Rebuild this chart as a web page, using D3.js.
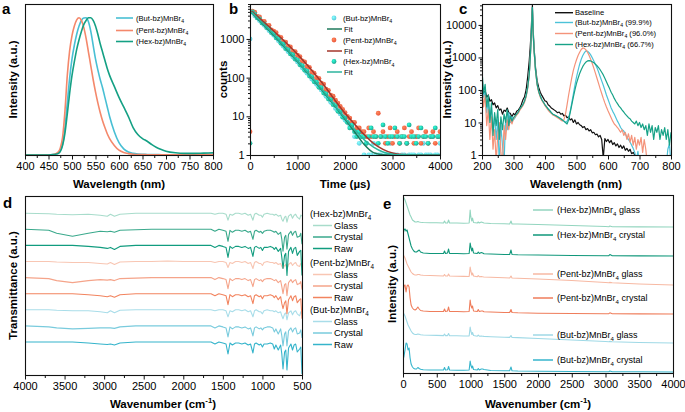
<!DOCTYPE html>
<html><head><meta charset="utf-8">
<script src="https://cdn.jsdelivr.net/npm/d3@7/dist/d3.min.js"></script>
<style>
html,body{margin:0;padding:0;background:#fff;}
svg{display:block;}
text{font-family:Arial,"Liberation Sans",Helvetica,sans-serif;}
</style></head><body>
<svg width="685" height="412"></svg>
<script>
// ================= DATA =================
// (a) normalised PL spectra
const aWavelength = [400,450,460,465,470,475,480,485,490,495,500,505,510,515,520,525,530,535,540,545,550,555,560,565,570,575,580,590,600,610,620,630,640,650,660,670,680,690,700,720,740,760,780,800];
const aBut  = [0,0,0.003,0.006,0.01,0.03,0.08,0.2,0.38,0.56,0.7,0.8,0.88,0.94,0.98,0.998,1.0,0.97,0.9,0.8,0.7,0.62,0.55,0.49,0.42,0.35,0.28,0.17,0.09,0.045,0.022,0.012,0.007,0.005,0.004,0.003,0.003,0.002,0.002,0.002,0.002,0.003,0.004,0.005];
const aPent = [0,0,0.004,0.01,0.02,0.05,0.13,0.32,0.58,0.76,0.87,0.94,0.985,1.0,0.98,0.93,0.85,0.75,0.65,0.55,0.46,0.38,0.31,0.25,0.2,0.155,0.12,0.07,0.035,0.018,0.01,0.006,0.004,0.003,0.002,0.002,0.002,0.002,0.002,0.002,0.002,0.002,0.003,0.004];
const aHex  = [0,0,0.003,0.006,0.01,0.025,0.07,0.16,0.3,0.45,0.58,0.68,0.77,0.84,0.9,0.95,0.98,1.0,1.0,0.98,0.94,0.88,0.81,0.75,0.69,0.63,0.58,0.5,0.42,0.35,0.28,0.2,0.15,0.12,0.1,0.075,0.055,0.04,0.028,0.016,0.012,0.012,0.014,0.016];
const aTicks = [400,450,500,550,600,650,700,750,800];
const aLegend = ["(But-bz)MnBr_{4}","(Pent-bz)MnBr_{4}","(Hex-bz)MnBr_{4}"];

// (b) PL decay (counts vs time, µs)
const bTime = [0,50,100,150,200,250,300,350,400,450,500,550,600,650,700,750,800,850,900,950,1000,1050,1100,1150,1200,1250,1300,1350,1400,1450,1500,1550,1600,1650,1700,1750,1800,1850,1900,1950,2000,2050,2100,2150,2200,2250,2300,2350,2400,2450,2500,2550,2600,2650,2700,2750,2800,2850,2900,2950,3000,3050,3100,3150,3200,3250,3300,3350,3400,3450,3500,3550,3600,3650,3700,3750,3800,3850,3900,3950,4000];
const bButCounts = [1000,4900,4000,3800,3000,2850,2250,2100,1650,1580,1250,1150,900,850,650,620,470,450,345,330,255,240,180,172,130,124,92,88,67,64,48,45,33,31,23,22,16,15.5,11.5,11,8,
  7,6,5,3,4,2,3,1,2,1, 1,2,1,1,1,3,1,1,2,1, 1,1,3,1,1,2,1,1,1,3, 1,1,2,1,1,1,3,1,1,2];
const bPentCounts = [4,5200,4900,3800,3700,2900,2850,2200,2250,1700,1600,1450,1150,1100,850,830,650,620,480,470,380,350,270,255,195,185,140,130,100,96,72,68,50,47,35,33,26,22,18,15,12.5,
  10,9,7,7,5,5,4,4,3,5, 3,4,3,12,3,4,2,3,5,2, 3,4,2,3,5,2,3,4,2,3, 5,2,3,4,2,3,4,2,3,4];
const bHexCounts = [2,5000,4400,3500,3300,2600,2450,1950,1850,1450,1350,1060,1000,770,730,560,530,410,390,300,285,215,205,155,148,110,105,78,76,56,55,40,38,28,27,20,19,13.5,13,9.5,9,
  7,5,6,4,3,4,3,3,2,3, 5,3,3,2,3,6,3,2,3,3, 5,3,2,3,3,2,6,3,3,2, 3,5,3,3,2,3,3,5,3,3];
const bFitTime = [30,500,1000,1500,2000,2200,2400,2600,2800,3000,3200,3600,4000];
const bFitBut  = [4900,1250,260,50,8.5,4,1.9,1.15,1.02,1,1,1,1];
const bFitPent = [5300,1600,400,78,12,6.3,3.4,2.0,1.4,1.12,1.03,1,1];
const bFitHex  = [5000,1300,270,52,9,4.6,2.5,1.6,1.2,1.05,1.01,1,1];
const bXTicks = [0,1000,2000,3000,4000];
const bYTicks = [1,10,100,1000];
const bLegend = ["(But-bz)MnBr_{4}","Fit","(Pent-bz)MnBr_{4}","Fit","(Hex-bz)MnBr_{4}","Fit"];

// (c) PLQY spectra (log)
const cWavelength = [200,205,210,215,220,225,230,235,240,245, 250,255,260,265,270,275,280,285,290,295, 300,305,310,315,320,325,330,335,340,345,
  350,353,356,358,360,362,365,370,375,380, 385,390,395,400,405,410,415,420,425,430, 435,440,445,450,455,460,465,470,475,480,
  485,490,495,500,505,510,515,520,525,530, 535,540,545,550,555,560,565,570,575,580, 585,590,595,600,605,610,615,620,625,630,
  635,640,645,650,655,660,665,670,675,680, 685,690,695,700,705,710,715,720,725,730, 735,740,745,750,755,760,765,770,775,780, 785,790,795,800];
const cBaseline = [110,75,95,60,70,45,50,35,40,28, 33,24,26,18,24,22,28,20,19,15, 19,17,22,24,28,36,50,62,100,250,
  800,2000,6000,18000,40000,9000,2200,480,190,120, 85,68,56,46,44,35,32,28,26,24, 22,20,21,18,19,16,17,14,15,12,
  13,10,12,9,10,8.5,8,7,7.5,6, 6.5,5.5,6,4.8,5,4.2,4.4,3.6,4,3, 0.8,3.2,2.6,3,2.4,2.8,2.1,2.4,1.9,2.2,
  1.7,2,1.6,1.9,1.4,1.6,1.3,1.5,1.1,1.2, 1,0.8,null,null,null,null,null,null,null,null, null,null,null,null,null,null,null,null,null,null, null,null,null,null];
const cBut = [250,60,90,20,50,12,30,6,15,3, 12,0.5,8,2,0.5,15,6,20,10,15, 12,14,18,20,25,30,35,45,65,120,
  300,900,3500,12000,33000,7000,1800,400,150,90, 65,50,42,35,30,26,23,20,18,17, 16,15,14,13,12,11,10,11,14,22,
  40,75,140,250,400,620,880,1150,1400,1600, 1550,1400,1200,980,780,620,480,360,260,190, 140,100,70,52,38,28,22,18,14,11,
  9,7,6,5.5,4.5,3.5,3,2.5,2,1.6, 1.2,0.7,1.3,0.5,0.5,0.5,0.5,0.5,0.5,0.5, 0.5,0.5,0.5,0.5,0.5,0.5,0.5,0.5,0.5,0.5, 0.5,1.5,2.2,0.5];
const cPent = [120,30,70,8,25,3,15,1.5,6,0.6, 4,10,1.2,0.5,8,3,12,6,14,9, 13,15,17,19,24,28,33,42,60,110,
  280,850,3200,11000,30000,6500,1700,380,140,85, 60,48,40,33,28,24,21,19,17,16, 15,14,13,12,11,12,18,35,70,130,
  240,400,600,850,1150,1450,1750,1950,1900,1700, 1450,1150,880,650,470,330,230,160,110,78, 55,40,30,23,18,14,11,9,8,7,
  6,5,6,4,5,3,4.5,2.5,4,2, 3.5,1.5,3,2,3.5,1.2,3,1.5,0.5,null, null,null,null,null,null,null,null,null,null,null, null,null,null,null];
const cHex = [400,80,150,30,70,10,40,4,20,8, 25,3,15,6,18,10,25,8,16,11, 14,16,18,21,26,30,36,46,66,120,
  300,900,3400,12000,34000,7000,1800,400,150,90, 65,50,42,35,30,26,23,20,18,17, 16,15,14,13,12,11,10,9,12,20,
  35,60,100,160,230,320,420,530,630,720, 780,800,780,740,690,620,560,490,420,350, 290,230,180,140,110,85,70,55,45,38,
  32,28,24,21,18,16,14,13,11,10, 9,11,8,10,7,9,6,8,4,9, 5,8,3,7,5,8,3,6,4,7, 3,6,2,5];
const cXTicks = [200,300,400,500,600,700,800];
const cYTicks = [1,10,100,1000,10000];
const cLegend = ["Baseline","(But-bz)MnBr_{4} (99.9%)","(Pent-bz)MnBr_{4} (96.0%)","(Hex-bz)MnBr_{4} (66.7%)"];

// (d) FTIR (relative transmittance change, 0 = baseline)
const dWavenumber = [500,515,530,560,580,600,620,640,670,690, 705,720,740,755,770,800,830,850,870,900, 940,980,1000,1020,1040,1080,1100,1120,1150,1180,
  1220,1260,1300,1340,1380,1410,1435,1460,1500,1550, 1600,1650,1800,2000,2200,2400,2600,2800,2870,2920, 2960,3050,3200,3400,3600,3700,4000];
const dHexGlass   = [-3,-2,-6,-4,-1,-2,-5,-1,-3,-9, -3,-4,-8,-6,-2,-3,-1,-2,-1,-1, 0,-1,-4,-2,-2,0,-1,-7,-1,-2, 0,-1,0,0,-2,-1,-7,-1,0,0, -1,0,0,0,0,0,0,-1,-3,-1, -3,-2,-1,-1.5,-1,-0.5,0];
const dHexCrystal = [-15,-4,-7,-8,-2,-3,-6,-2,-5,-20, -6,-8,-22,-10,-3,-5,-2,-3,-2,-1, -1,-2,-4,-2,-3,-1,-2,-10,-2,-3, -1,-2,-1,-1,-3,-1,-12,-2,-1,0, -2,0,0,0,0,0,-0.5,-1,-3,-2, -2.5,-2,-4,-7,-4,-1,0];
const dHexRaw     = [-30,-5,-6,-10,-2,-3,-8,-2,-6,-30, -8,-10,-23,-12,-3,-6,-2,-4,-2,-1, -2,-2,-5,-2,-3,-1,-2,-11,-2,-3, -1,-2,-1,-1,-3,-1,-12,-2,-1,0, -2,0,0,0,0,0,0,-1,-4,-2, -3,-2,-1,0,0,0,0];
const dPentGlass  = [-3,-2,-5,-4,-1,-2,-4,-1,-3,-8, -3,-4,-7,-5,-2,-3,-1,-2,-1,-1, 0,-1,-4,-2,-2,0,-1,-7,-1,-2, 0,-1,0,0,-2,-1,-6,-1,0,0, -1,0,0,0,0.5,0,0,-0.5,-3,-1, -2.5,-2,-1,-1,-0.5,0,0];
const dPentCrystal= [-12,-4,-6,-7,-2,-3,-5,-2,-5,-18, -6,-7,-16,-9,-3,-5,-2,-3,-2,-1, -1,-2,-4,-2,-3,-1,-2,-9,-2,-3, -1,-2,-1,-1,-3,-1,-11,-2,-1,0, -2,0,0,0,0,0,-0.5,-1,-3,-2, -2.5,-2,-3,-5,-3,-1,0];
const dPentRaw    = [-25,-5,-6,-9,-2,-3,-7,-2,-6,-20, -7,-9,-15,-10,-3,-6,-2,-4,-2,-1, -2,-2,-5,-2,-3,-1,-2,-10,-2,-3, -1,-2,-1,-1,-3,-1,-11,-2,-1,0, -2,0,0,0,0,0,0,-1,-3.5,-2, -3,-2,-1,0,0,0,0];
const dButGlass   = [-4,-2,-6,-4,-1,-2,-5,-1,-3,-10, -3,-4,-9,-6,-2,-3,-1,-2,-1,-1, 0,-1,-4,-2,-2,0,-1,-7,-1,-2, 0,-1,0,0,-2,-1,-7,-1,0,0, -1,0,0,0,0,0,0,-0.5,-3,-1, -3,-2,-1,-1,-0.5,0,0];
const dButCrystal = [-12,-4,-7,-8,-2,-3,-6,-2,-5,-20, -6,-8,-20,-10,-3,-8,-3,-6,-2,-1, -1,-2,-4,-2,-3,-1,-2,-10,-2,-3, -1,-2,-1,-1,-3,-1,-11,-2,-1,0, -2,0,0,0,0,0,0,-1,-2.5,-2, -2,-2,-2.5,-3,-2,-1,0];
const dButRaw     = [-32,-5,-7,-10,-2,-3,-8,-2,-6,-28, -8,-10,-27,-12,-3,-8,-3,-7,-2,-1, -2,-2,-5,-2,-3,-1,-2,-11,-2,-3, -1,-2,-1,-1,-3,-1,-12,-2,-1,0, -2,0,0,0,0,0,0,-1,-3,-2, -2.5,-2,-1,0,0,0,0];
const dXTicks = [4000,3500,3000,2500,2000,1500,1000,500];
const dLegendGroups = ["(Hex-bz)MnBr_{4}","(Pent-bz)MnBr_{4}","(But-bz)MnBr_{4}"];
const dLegendItems = ["Glass","Crystal","Raw"];

// (e) Raman (relative intensity above each trace's baseline)
const eWavenumber = [0,15,30,45,60,75,90,105,120, 140,160,180,200,220,240,260, 300,400,500,600,615,630,660,675,690, 800,900,980,995,1005,1020,1030,1045, 1100,1115,1130,1160,1180,1200,1300, 1500,1580,1600,1615,1700,2000,2500, 3000,3050,3065,3100,3500,4000];
const eHexGlass    = [30,29,27,24,21,18,15,12,10, 7,6,5,5,5.5,5,4.8, 4.5,4.3,4.2,4,6,4,4,7,4, 4,3.8,4,17,10,6,9,4.5, 4,5,4,5,4.5,4,3.5, 3.2,3,6,3,3,2.5,1.5, 0.5,0.3,1,0.3,0.1,0];
const eHexCrystal  = [22,26,27,25,26,22,18,14,10, 7,5,4,4,5,6,4, 3,2.5,2.5,2.5,5,2.5,3,7,2.5, 2.5,2.3,2.5,13,9,5,8,3, 2.5,4,2.5,3.5,3,2.3,2, 1.5,1.5,6,1.5,1.2,1,0.5, 0.3,0.3,1.5,0.3,0.1,0];
const ePentGlass   = [30,29,27,24,21,19,17,15,13, 11.5,10.5,10,10,10.5,10.5,10, 9.8,9.5,9.2,9,10.5,9,9,11,9, 8.8,8.6,8.5,18,14,10,12,9, 8.3,9.5,8.3,8.5,8.2,8,7.7, 7.2,7,9,7,6.8,6,4.5, 2.5,2.3,2.6,2.2,1,0];
const ePentCrystal = [20,28,29,22,28,29,27,16,9, 6,4.5,4,5,7,5,3.5, 3,2.5,2.5,2.5,5,2.5,3,7,2.5, 2.5,2.3,2.5,14,9,6,8,3, 2.5,4.5,2.5,3,3,2.3,2, 1.5,1.5,4.5,1.5,1.2,0.8,0.5, 0.3,0.3,1.2,0.3,0.1,0];
const eButGlass    = [30,29,27,24,21,18,16,14,12, 10,9,8.5,8.5,9,8.7,8.3, 8,7.8,7.6,7.4,9,7.4,7.4,9.5,7.3, 7.2,7,7,16,12,8.5,10.5,7.5, 6.8,8,6.8,7,6.8,6.6,6.3, 5.8,5.6,7.5,5.6,5.4,4.5,3, 1.5,1.3,1.6,1.2,0.5,0];
const eButCrystal  = [12,16,22,29,28,22,24,14,8, 5,3.5,3,3,4.5,3.5,2.8, 2.3,2,2,2,4.5,2,2.2,5.5,2, 1.8,1.8,2,11,7,4,6,2.5, 2,3.5,2,3,3,2.5,1.5, 1.2,1.2,5,1.2,1,0.8,0.5, 0.3,0.3,1,0.3,0.2,0];
const eXTicks = [0,500,1000,1500,2000,2500,3000,3500,4000];
const eLegend = ["(Hex-bz)MnBr_{4} glass","(Hex-bz)MnBr_{4} crystal","(Pent-bz)MnBr_{4} glass","(Pent-bz)MnBr_{4} crystal","(But-bz)MnBr_{4} glass","(But-bz)MnBr_{4} crystal"];

// ================= DRAWING =================
const svg = d3.select('svg');
const defs = svg.append('defs');
const zip = (xs, ys) => xs.map((x, i) => [x, ys[i]]);
let clipN = 0;

function rich(g, x, y, str, o = {}) {
  const size = o.size || 11;
  const t = g.append('text').attr('x', x).attr('y', y)
    .attr('font-size', size).attr('font-weight', o.bold ? 'bold' : 'normal')
    .attr('text-anchor', o.anchor || 'start').attr('fill', o.fill || '#000');
  if (o.rotate) t.attr('transform', `rotate(-90,${x},${y})`);
  const parts = str.split(/(_\{[^}]*\}|\^\{[^}]*\})/).filter(s => s.length);
  let shift = 0;
  parts.forEach(p => {
    let type = null, txt = p;
    if (p.startsWith('_{')) { type = 'sub'; txt = p.slice(2, -1); }
    else if (p.startsWith('^{')) { type = 'sup'; txt = p.slice(2, -1); }
    const ts = t.append('tspan').text(txt);
    const target = type === 'sub' ? size * 0.3 : type === 'sup' ? -size * 0.42 : 0;
    if (target !== shift) { ts.attr('dy', target - shift); shift = target; }
    if (type) ts.attr('font-size', size * 0.68);
  });
  return t;
}

function panel(x0, y0, x1, y1) {
  const id = 'clip' + (clipN++);
  defs.append('clipPath').attr('id', id).append('rect')
    .attr('x', x0).attr('y', y0).attr('width', x1 - x0).attr('height', y1 - y0);
  const g = svg.append('g');
  const plot = g.append('g').attr('clip-path', `url(#${id})`);
  return { g, plot, x0, y0, x1, y1 };
}
function frame(p) {
  p.g.append('rect').attr('x', p.x0 + 0.5).attr('y', p.y0 + 0.5)
    .attr('width', p.x1 - p.x0).attr('height', p.y1 - p.y0)
    .attr('fill', 'none').attr('stroke', '#111').attr('stroke-width', 1.1);
}
function styleAxis(ax, size) {
  ax.select('.domain').remove();
  ax.selectAll('line').attr('stroke', '#111');
  ax.selectAll('text').attr('font-size', size).attr('fill', '#000')
    .attr('font-family', 'Arial,"Liberation Sans",sans-serif');
}
function xAxis(p, scale, major, minor, size) {
  const ax = p.g.append('g').attr('transform', `translate(0,${p.y1 + 1})`)
    .call(d3.axisBottom(scale).tickValues(major).tickSize(3.5).tickSizeOuter(0).tickPadding(2.5).tickFormat(d3.format('d')));
  styleAxis(ax, size);
  if (minor) {
    const mx = p.g.append('g').attr('transform', `translate(0,${p.y1 + 1})`)
      .call(d3.axisBottom(scale).tickValues(minor).tickSize(2).tickFormat(''));
    styleAxis(mx, size);
  }
}
function yAxisLog(p, scale, major, size) {
  const ax = p.g.append('g').attr('transform', `translate(${p.x0},0)`)
    .call(d3.axisLeft(scale).tickValues(major).tickSize(3.5).tickSizeOuter(0).tickPadding(2).tickFormat(d3.format('d')));
  styleAxis(ax, size);
  const dom = scale.domain();
  const minor = [];
  major.forEach(m => { for (let k = 2; k < 10; k++) if (m * k <= dom[1]) minor.push(m * k); });
  const mx = p.g.append('g').attr('transform', `translate(${p.x0},0)`)
    .call(d3.axisLeft(scale).tickValues(minor).tickSize(2).tickFormat(''));
  styleAxis(mx, size);
}
const mids = arr => arr.slice(1).map((v, i) => (v + arr[i]) / 2);
const TICK = 11;

// ---------- panel a ----------
{
  const p = panel(25, 4, 213, 155);
  const x = d3.scaleLinear().domain([400, 800]).range([p.x0, p.x1]);
  const y = d3.scaleLinear().domain([0, 1.1]).range([p.y1, p.y0]);
  const line = d3.line().x(d => x(d[0])).y(d => y(d[1])).curve(d3.curveMonotoneX);
  const cols = ['#48bfd4', '#f4886b', '#14a084'];
  [aBut, aPent, aHex].forEach((s, i) => {
    p.plot.append('path').datum(zip(aWavelength, s)).attr('d', line)
      .attr('fill', 'none').attr('stroke', cols[i]).attr('stroke-width', 1.6);
  });
  const ly = [18, 30.5, 41.5];
  aLegend.forEach((t, i) => {
    p.g.append('line').attr('x1', 116).attr('x2', 133).attr('y1', ly[i]).attr('y2', ly[i]).attr('stroke', cols[i]).attr('stroke-width', 1.6);
    rich(p.g, 136, ly[i] + 2.7, t, { size: 7.6 });
  });
  frame(p);
  xAxis(p, x, aTicks, mids(aTicks), TICK);
  rich(svg, 119, 188, 'Wavelength (nm)', { size: 11.5, bold: true, anchor: 'middle' });
  rich(svg, 17, 79.5, 'Intensity (a.u.)', { size: 11.5, bold: true, anchor: 'middle', rotate: true });
  rich(svg, 2, 14, 'a', { size: 15, bold: true });
}

// ---------- panel b ----------
{
  const p = panel(250, 4, 440, 155);
  const x = d3.scaleLinear().domain([0, 4000]).range([p.x0, p.x1]);
  const y = d3.scaleLog().domain([1, 8000]).range([p.y1, p.y0]);
  const ptCols = ['#55c3d6', '#e9553a', '#1ca08a'];
  const fitCols = ['#1f7a5c', '#a3362b', '#2cb59e'];
  ptCols.forEach((c, i) => {
    const gr = defs.append('radialGradient').attr('id', 'ball' + i).attr('cx', '38%').attr('cy', '35%').attr('r', '70%');
    gr.append('stop').attr('offset', '0%').attr('stop-color', d3.color(c).brighter(1.3));
    gr.append('stop').attr('offset', '100%').attr('stop-color', c);
  });
  [bButCounts, bPentCounts, bHexCounts].forEach((s, i) => {
    p.plot.append('g').selectAll('circle').data(zip(bTime, s)).join('circle')
      .attr('cx', d => x(d[0])).attr('cy', d => y(d[1])).attr('r', 2.4)
      .attr('fill', `url(#ball${i})`);
  });
  const line = d3.line().x(d => x(d[0])).y(d => y(d[1])).curve(d3.curveMonotoneX);
  [bFitBut, bFitPent, bFitHex].forEach((s, i) => {
    p.plot.append('path').datum(zip(bFitTime, s)).attr('d', line)
      .attr('fill', 'none').attr('stroke', fitCols[i]).attr('stroke-width', 1.5);
  });
  const ly = [18, 29, 40, 51, 61.5, 72];
  bLegend.forEach((t, i) => {
    const k = Math.floor(i / 2);
    if (i % 2 === 0) {
      p.g.append('circle').attr('cx', 334).attr('cy', ly[i]).attr('r', 2.4).attr('fill', `url(#ball${k})`);
    } else {
      p.g.append('line').attr('x1', 327).attr('x2', 342).attr('y1', ly[i]).attr('y2', ly[i]).attr('stroke', fitCols[k]).attr('stroke-width', 1.5);
    }
    rich(p.g, i % 2 === 0 ? 343 : 344, ly[i] + 2.8, t, { size: 7.8 });
  });
  frame(p);
  xAxis(p, x, bXTicks, mids(bXTicks), TICK);
  yAxisLog(p, y, bYTicks, TICK);
  rich(svg, 345, 188, 'Time (\u00b5s)', { size: 11.5, bold: true, anchor: 'middle' });
  rich(svg, 227, 79.5, 'counts', { size: 11.5, bold: true, anchor: 'middle', rotate: true });
  rich(svg, 229, 14, 'b', { size: 15, bold: true });
}

// ---------- panel c ----------
{
  const p = panel(482, 4, 671, 155);
  const x = d3.scaleLinear().domain([200, 800]).range([p.x0, p.x1]);
  const y = d3.scaleLog().domain([1, 44000]).range([p.y1, p.y0]);
  const cols = ['#111111', '#4cc2d8', '#f4937a', '#17a287'];
  const line = d3.line().defined(d => d[1] != null).x(d => x(d[0])).y(d => y(d[1]));
  [cBaseline, cBut, cPent, cHex].forEach((s, i) => {
    p.plot.append('path').datum(zip(cWavelength, s)).attr('d', line)
      .attr('fill', 'none').attr('stroke', cols[i]).attr('stroke-width', 1.2).attr('stroke-linejoin', 'round');
  });
  const ly = [12.7, 22.5, 33.5, 44.5];
  cLegend.forEach((t, i) => {
    p.g.append('line').attr('x1', 555).attr('x2', 573).attr('y1', ly[i]).attr('y2', ly[i]).attr('stroke', cols[i]).attr('stroke-width', 1.4);
    rich(p.g, 575, ly[i] + 2.7, t, { size: 7.6 });
  });
  frame(p);
  xAxis(p, x, cXTicks, mids(cXTicks), TICK);
  yAxisLog(p, y, cYTicks, TICK);
  rich(svg, 576, 188, 'Wavelength (nm)', { size: 11.5, bold: true, anchor: 'middle' });
  rich(svg, 451, 79.5, 'Intensity (a.u.)', { size: 11.5, bold: true, anchor: 'middle', rotate: true });
  rich(svg, 459, 14, 'c', { size: 15, bold: true });
}

// ---------- panel d ----------
{
  const p = panel(25, 196, 302, 375);
  const x = d3.scaleLinear().domain([4000, 500]).range([p.x0, p.x1]);
  const y = d3.scaleLinear().domain([0, 179]).range([p.y1, p.y0]);
  const stack = [dButRaw, dButCrystal, dButGlass, dPentRaw, dPentCrystal, dPentGlass, dHexRaw, dHexCrystal, dHexGlass];
  const cols = ['#35b4cb', '#79cbdd', '#a9dde9', '#f2845f', '#f5a48a', '#f8c6b3', '#119c7f', '#3aa98c', '#a8dccb'];
  stack.forEach((s, k) => {
    const off = 33 + 16.1 * k;
    const line = d3.line().x(d => x(d[0])).y(d => y(off + d[1]));
    p.plot.append('path').datum(zip(dWavenumber, s)).attr('d', line)
      .attr('fill', 'none').attr('stroke', cols[k]).attr('stroke-width', 1.1).attr('stroke-linejoin', 'round');
  });
  frame(p);
  xAxis(p, x, dXTicks, mids(dXTicks), TICK);
  // legend
  const groupY = [214, 263, 310];
  const lcols = [['#a8dccb', '#3aa98c', '#119c7f'], ['#f8c6b3', '#f5a48a', '#f2845f'], ['#a9dde9', '#79cbdd', '#35b4cb']];
  dLegendGroups.forEach((gname, gi) => {
    rich(svg, 310, groupY[gi] + 3.3, gname, { size: 9.3 });
    dLegendItems.forEach((it, j) => {
      const yy = groupY[gi] + 11.5 * (j + 1);
      svg.append('line').attr('x1', 313).attr('x2', 332).attr('y1', yy).attr('y2', yy).attr('stroke', lcols[gi][j]).attr('stroke-width', 1.5);
      rich(svg, 334, yy + 3.3, it, { size: 9.3 });
    });
  });
  rich(svg, 163, 408, 'Wavenumber (cm^{-1})', { size: 11.5, bold: true, anchor: 'middle' });
  rich(svg, 17, 285.5, 'Transmittance (a.u.)', { size: 11.5, bold: true, anchor: 'middle', rotate: true });
  rich(svg, 3, 208, 'd', { size: 15, bold: true });
}

// ---------- panel e ----------
{
  const p = panel(403, 195, 673, 373);
  const x = d3.scaleLinear().domain([0, 4000]).range([p.x0, p.x1]);
  const y = d3.scaleLinear().domain([0, 178]).range([p.y1, p.y0]);
  const stack = [eButCrystal, eButGlass, ePentCrystal, ePentGlass, eHexCrystal, eHexGlass];
  const cols = ['#36b5cc', '#9fd9e6', '#ef7d5b', '#f7b9a3', '#0f977a', '#93d5bf'];
  stack.forEach((s, k) => {
    const off = 1 + 29 * k;
    const line = d3.line().x(d => x(d[0])).y(d => y(off + d[1]));
    p.plot.append('path').datum(zip(eWavenumber, s)).attr('d', line)
      .attr('fill', 'none').attr('stroke', cols[k]).attr('stroke-width', 1.1).attr('stroke-linejoin', 'round');
  });
  const ly = [210, 235, 274, 298, 335, 360];
  const lc = [cols[5], cols[4], cols[3], cols[2], cols[1], cols[0]];
  eLegend.forEach((t, i) => {
    p.g.append('line').attr('x1', 533).attr('x2', 553).attr('y1', ly[i]).attr('y2', ly[i]).attr('stroke', lc[i]).attr('stroke-width', 1.5);
    rich(p.g, 557, ly[i] + 3.2, t, { size: 9 });
  });
  frame(p);
  xAxis(p, x, eXTicks, mids(eXTicks), TICK);
  rich(svg, 538, 408, 'Wavenumber (cm^{-1})', { size: 11.5, bold: true, anchor: 'middle' });
  rich(svg, 396, 284, 'Intensity (a.u.)', { size: 11.5, bold: true, anchor: 'middle', rotate: true });
  rich(svg, 383, 209, 'e', { size: 15, bold: true });
}
</script>
</body></html>
